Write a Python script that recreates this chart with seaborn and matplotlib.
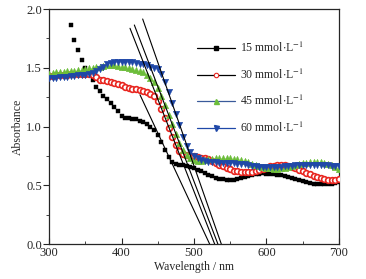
import numpy as np
import pandas as pd
import seaborn as sns
import matplotlib
matplotlib.use("Agg")
from matplotlib import pyplot as plt
from matplotlib.lines import Line2D
from matplotlib.ticker import MultipleLocator, FormatStrFormatter

# wavelengths (nm), 5 nm step
wl = np.arange(300, 705, 5)
wl_15 = np.arange(330, 705, 5)

abs_15 = [1.86, 1.74, 1.65, 1.57, 1.50, 1.45, 1.40, 1.34, 1.30, 1.26, 1.23, 1.20, 1.17, 1.13,
          1.09, 1.07, 1.07, 1.065, 1.06, 1.05, 1.04, 1.02, 1.00, 0.97, 0.93, 0.87, 0.80, 0.74,
          0.70, 0.68, 0.675, 0.67, 0.665, 0.655, 0.645, 0.63, 0.62, 0.605, 0.59, 0.575, 0.565,
          0.555, 0.55, 0.545, 0.545, 0.548, 0.552, 0.56, 0.57, 0.58, 0.59, 0.595, 0.60, 0.602,
          0.60, 0.598, 0.595, 0.59, 0.585, 0.578, 0.57, 0.562, 0.555, 0.545, 0.535, 0.527, 0.52,
          0.515, 0.51, 0.508, 0.508, 0.51, 0.515, 0.52, 0.528]

abs_30 = [1.43, 1.43, 1.435, 1.44, 1.44, 1.44, 1.445, 1.445, 1.45, 1.45, 1.45, 1.45, 1.44, 1.42,
          1.40, 1.40, 1.39, 1.38, 1.37, 1.36, 1.35, 1.34, 1.33, 1.32, 1.315, 1.31, 1.30, 1.29,
          1.28, 1.26, 1.22, 1.15, 1.07, 0.99, 0.91, 0.84, 0.79, 0.77, 0.755, 0.75, 0.745, 0.74,
          0.735, 0.73, 0.72, 0.705, 0.69, 0.675, 0.66, 0.645, 0.635, 0.625, 0.618, 0.612, 0.61,
          0.61, 0.613, 0.62, 0.63, 0.64, 0.65, 0.66, 0.668, 0.672, 0.673, 0.671, 0.665, 0.656,
          0.645, 0.633, 0.62, 0.607, 0.594, 0.582, 0.57, 0.56, 0.552, 0.546, 0.543, 0.545, 0.55]

abs_45 = [1.45, 1.455, 1.46, 1.46, 1.465, 1.47, 1.47, 1.475, 1.48, 1.485, 1.49, 1.495, 1.50,
          1.505, 1.51, 1.515, 1.52, 1.52, 1.52, 1.515, 1.51, 1.505, 1.50, 1.49, 1.48, 1.47, 1.46,
          1.44, 1.41, 1.38, 1.33, 1.26, 1.18, 1.10, 1.02, 0.94, 0.86, 0.80, 0.76, 0.73, 0.715,
          0.71, 0.71, 0.715, 0.72, 0.725, 0.73, 0.733, 0.735, 0.733, 0.73, 0.725, 0.72, 0.713,
          0.705, 0.695, 0.685, 0.675, 0.665, 0.657, 0.65, 0.645, 0.642, 0.642, 0.645, 0.65, 0.657,
          0.665, 0.673, 0.68, 0.687, 0.693, 0.697, 0.70, 0.70, 0.698, 0.693, 0.685, 0.672, 0.658,
          0.64]

abs_60 = [1.41, 1.41, 1.415, 1.42, 1.42, 1.425, 1.43, 1.43, 1.435, 1.44, 1.44, 1.445, 1.455,
          1.47, 1.49, 1.51, 1.53, 1.54, 1.545, 1.55, 1.55, 1.55, 1.548, 1.545, 1.54, 1.535, 1.53,
          1.52, 1.51, 1.50, 1.49, 1.45, 1.38, 1.29, 1.20, 1.11, 1.01, 0.91, 0.83, 0.78, 0.75,
          0.73, 0.715, 0.705, 0.70, 0.697, 0.695, 0.693, 0.692, 0.69, 0.69, 0.688, 0.685, 0.68,
          0.677, 0.673, 0.668, 0.663, 0.658, 0.655, 0.652, 0.652, 0.653, 0.655, 0.658, 0.661,
          0.664, 0.667, 0.669, 0.67, 0.671, 0.672, 0.672, 0.672, 0.672, 0.671, 0.67, 0.669, 0.668,
          0.667, 0.665]

labels = ["15", "30", "45", "60"]

# tangent lines (start / end points in data units)
tan_x0 = [425.5, 411.7, 417.7, 429.2]
tan_y0 = [1.27, 1.836, 1.864, 1.915]
tan_x1 = [521.6, 528.5, 533.0, 537.7]
tan_y1 = [0.0, 0.0, 0.0, 0.0]

sns.set_style("ticks")
plt.rcParams["font.family"] = ["Liberation Serif", "DejaVu Serif"]
plt.rcParams["mathtext.fontset"] = "stix"
plt.rcParams["font.size"] = 8

fig = plt.figure(figsize=(3.66, 2.79), dpi=100)
ax = fig.add_axes([0.134, 0.1254, 0.792, 0.8423])

red = "#e8251f"
green = "#6cbd3a"
blue = "#1f48a8"

df15 = pd.DataFrame({"wl": wl_15, "A": abs_15})
df30 = pd.DataFrame({"wl": wl, "A": abs_30})
df45 = pd.DataFrame({"wl": wl, "A": abs_45})
df60 = pd.DataFrame({"wl": wl, "A": abs_60})

sns.scatterplot(data=df15, x="wl", y="A", marker="s", s=11, color="black",
                edgecolor="black", linewidth=0.3, ax=ax, zorder=3)
sns.scatterplot(data=df30, x="wl", y="A", marker="o", s=17, facecolor="white",
                edgecolor=red, linewidth=1.2, ax=ax, zorder=4)
sns.scatterplot(data=df45, x="wl", y="A", marker="^", s=22, color=green,
                edgecolor=green, linewidth=0.3, ax=ax, zorder=5)
sns.scatterplot(data=df60, x="wl", y="A", marker="v", s=22, color=blue,
                edgecolor=blue, linewidth=0.3, ax=ax, zorder=6)

for x0, y0, x1, y1 in zip(tan_x0, tan_y0, tan_x1, tan_y1):
    ax.plot([x0, x1], [y0, y1], color="black", lw=0.8, zorder=7)

ax.set_xlim(300, 700)
ax.set_ylim(0, 2.0)
ax.xaxis.set_major_locator(MultipleLocator(100))
ax.xaxis.set_minor_locator(MultipleLocator(50))
ax.yaxis.set_major_locator(MultipleLocator(0.5))
ax.yaxis.set_minor_locator(MultipleLocator(0.25))
ax.yaxis.set_major_formatter(FormatStrFormatter("%.1f"))
ax.tick_params(axis="x", which="both", direction="in", top=False, labelsize=9, pad=2)
ax.tick_params(axis="x", which="major", length=4)
ax.tick_params(axis="x", which="minor", length=2.5)
ax.tick_params(axis="y", which="both", direction="out", right=False, labelsize=9, pad=1)
ax.tick_params(axis="y", which="major", length=4)
ax.tick_params(axis="y", which="minor", length=2.5)
for sp in ax.spines.values():
    sp.set_visible(True)
    sp.set_linewidth(0.9)

ax.set_xlabel("Wavelength / nm", fontsize=8.5, labelpad=1.5)
ax.set_ylabel("Absorbance", fontsize=8.5, labelpad=2)

handles = [
    Line2D([], [], color="black", lw=0.9, marker="s", ms=3, mfc="black", mec="black"),
    Line2D([], [], color="black", lw=0.9, marker="o", ms=3.2, mfc="white", mec=red, mew=0.8),
    Line2D([], [], color="#3a5a9a", lw=0.9, marker="^", ms=3.6, mfc=green, mec=green),
    Line2D([], [], color=blue, lw=0.9, marker="v", ms=3.6, mfc=blue, mec=blue),
]
ax.legend(handles, [f"{c} mmol$\\cdot$L$^{{-1}}$" for c in labels], frameon=False,
          loc="upper left", bbox_to_anchor=(0.475, 0.91), handlelength=3.2,
          labelspacing=1.05, fontsize=8.5, handletextpad=0.4)

fig.savefig("out.png", dpi=100)
